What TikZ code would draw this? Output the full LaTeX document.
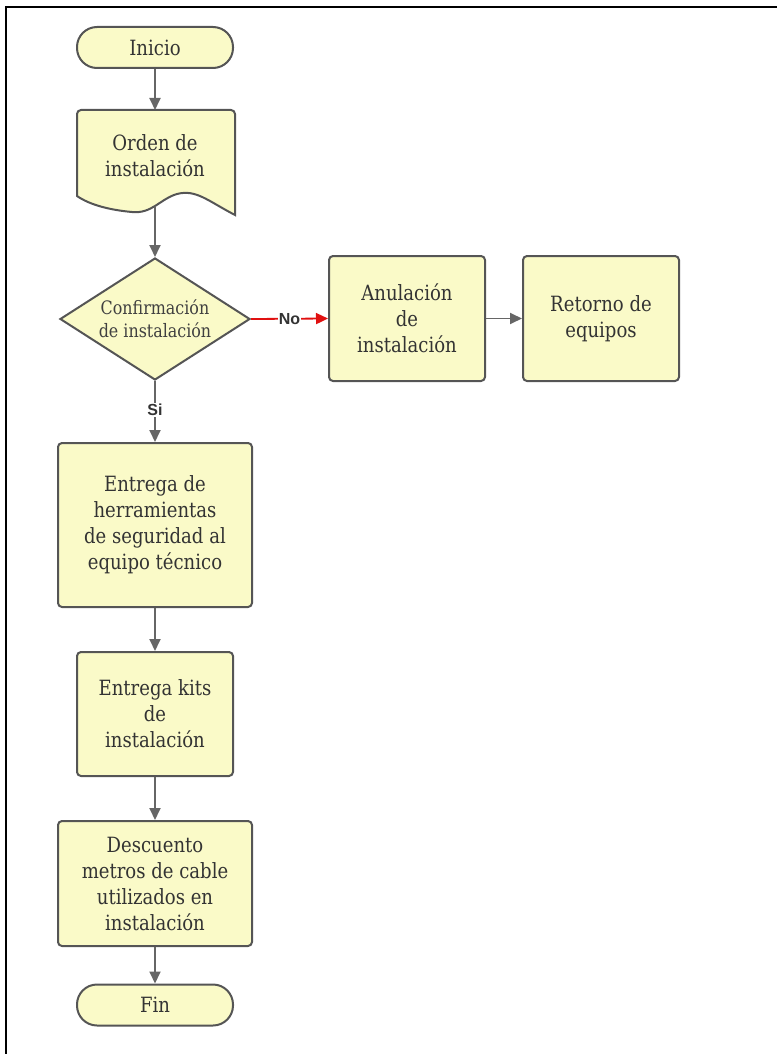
\documentclass[tikz,border=0pt]{standalone}
\usepackage{fontspec}
\setmainfont{DejaVu Serif}[FakeStretch=0.86]
\newfontfamily\labelfont{Liberation Sans}[BoldFont={Liberation Sans Bold}]
\usetikzlibrary{shapes.geometric,arrows.meta}
\definecolor{boxfill}{HTML}{FAFAC8}
\definecolor{boxline}{HTML}{555555}
\definecolor{flowline}{HTML}{666666}
\definecolor{noline}{HTML}{E01010}
\tikzset{
  x=1pt, y=-1pt,
  txt/.style={font=\fontsize{21}{26}\selectfont, text=black!80, align=center},
  procbox/.style={txt, draw=boxline, fill=boxfill, line width=2pt, rounded corners=4pt, inner sep=2pt},
  term/.style={txt, draw=boxline, fill=boxfill, line width=2pt, rounded corners=20pt, minimum width=156pt, minimum height=41pt, inner sep=0pt},
  decision/.style={diamond, draw=boxline, fill=boxfill, line width=2pt, minimum width=190pt, minimum height=122pt, aspect=1.56, inner sep=0pt, align=center, text=black!75, font=\fontsize{18.5}{23}\selectfont},
  flow/.style={draw=flowline, line width=1.8pt, -{Triangle[length=12pt,width=11pt]}},
  noflow/.style={draw=noline, line width=1.8pt, -{Triangle[length=12pt,width=11pt]}},
  edgelabel/.style={fill=white, inner sep=1pt, font=\labelfont\bfseries\fontsize{16}{18}\selectfont, text=black!80},
}
\begin{document}
\begin{tikzpicture}
\useasboundingbox (0,0) rectangle (777,1054);
% page frame
\draw[line width=2pt] (6,1054) -- (6,7) -- (777,7);

% start
\node[term] (inicio) at (155,47.5) {Inicio};

% document shape with wavy lower edge
\draw[draw=boxline, fill=boxfill, line width=2pt, rounded corners=4pt]
  (77,196) -- (77,110) -- (235,110) [sharp corners] -- (235,215)
  .. controls (208,201) and (196,189) .. (177,194)
  .. controls (160,199) and (152,214) .. (132,212)
  .. controls (110,210) and (90,205) .. (77,196) -- cycle;
\node[txt] (orden) at (155,156) {Orden de\\instalación};
\coordinate (ordenout) at (155,207);
\coordinate (ordenin) at (155,110);

% decision
\node[decision] (conf) at (155,319) {Confirmación\\de instalación};

% branch "No"
\node[procbox, minimum width=156pt, minimum height=125pt] (anul) at (407,318.5) {Anulación\\de\\instalación};
\node[procbox, minimum width=156pt, minimum height=125pt] (ret) at (601,318.5) {Retorno de\\equipos};

% branch "Si"
\node[procbox, minimum width=194pt, minimum height=164pt] (herr) at (155,525) {Entrega de\\herramientas\\de seguridad al\\equipo técnico};
\node[procbox, minimum width=156pt, minimum height=124pt] (kits) at (155,714) {Entrega kits\\de\\instalación};
\node[procbox, minimum width=194pt, minimum height=125pt] (desc) at (155,883.5) {Descuento\\metros de cable\\utilizados en\\instalación};
\node[term] (fin) at (155,1005) {Fin};

% connectors
\draw[flow] (inicio) -- (ordenin);
\draw[flow] (ordenout) -- (conf.north);
\draw[noflow] (conf.east) -- node[edgelabel, pos=0.5] {No} (anul.west);
\draw[flow] (anul) -- (ret);
\draw[flow] (conf.south) -- node[edgelabel, pos=0.47] {Si} (herr.north);
\draw[flow] (herr) -- (kits);
\draw[flow] (kits) -- (desc);
\draw[flow] (desc) -- (fin);
\end{tikzpicture}
\end{document}
